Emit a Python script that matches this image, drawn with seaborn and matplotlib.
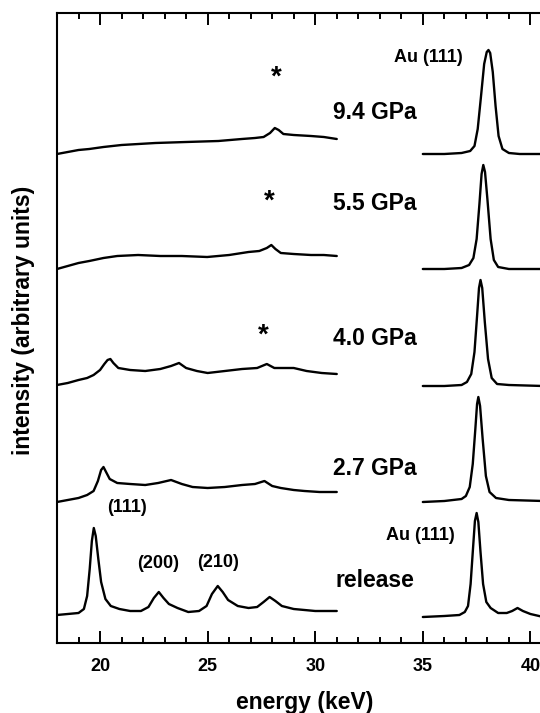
import numpy as np
import pandas as pd
import matplotlib
matplotlib.use("Agg")
import matplotlib.pyplot as plt
import seaborn as sns

# ---------------- data (y in arbitrary stacked units) ----------------
rel_lx = [18.0, 18.5, 19.0, 19.25, 19.4, 19.52, 19.62, 19.71, 19.8, 19.92, 20.05, 20.25, 20.5, 20.9, 21.4,
          21.9, 22.25, 22.5, 22.73, 22.95, 23.2, 23.6, 24.1, 24.6, 24.95, 25.2, 25.47, 25.7, 25.95, 26.4,
          26.9, 27.3, 27.6, 27.88, 28.15, 28.45, 29.0, 29.5, 30.0, 30.5, 31.0]
rel_ly = [29, 30, 31, 35, 48, 75, 103, 116, 108, 85, 62, 45, 38, 35, 33,
          33, 37, 46, 52, 46, 40, 36, 32, 33, 38, 50, 58, 52, 44, 38,
          36, 37, 42, 47, 43, 38, 35, 34, 33, 33, 33]
rel_rx = [35.0, 36.0, 36.7, 36.95, 37.1, 37.22, 37.33, 37.42, 37.5, 37.58, 37.68, 37.8, 37.95, 38.15,
          38.5, 38.9, 39.15, 39.4, 39.65, 40.0, 40.6]
rel_ry = [27, 28, 29, 32, 38, 60, 95, 123, 131, 122, 92, 60, 42, 36,
          31, 31, 33, 36, 33, 30, 27]

p27_lx = [18.0, 18.5, 19.0, 19.4, 19.7, 19.9, 20.05, 20.16, 20.28, 20.45, 20.8, 21.4, 22.1, 22.7,
          23.3, 23.8, 24.3, 25.0, 25.8, 26.6, 27.2, 27.64, 28.0, 28.4, 29.0, 29.5, 30.2, 31.0]
p27_ly = [142, 144, 146, 149, 153, 163, 174, 177, 172, 165, 161, 160, 159, 161,
          164, 160, 157, 156, 157, 159, 160, 163, 158, 156, 154, 153, 152, 152]
p27_rx = [35.0, 36.0, 36.8, 37.0, 37.18, 37.32, 37.44, 37.52, 37.58, 37.66, 37.78, 37.93, 38.1, 38.4, 39.0, 40.6]
p27_ry = [142, 143, 145, 148, 157, 180, 215, 240, 247, 238, 205, 168, 152, 146, 144, 143]

p40_lx = [18.0, 18.5, 19.0, 19.4, 19.7, 20.0, 20.2, 20.35, 20.48, 20.62, 20.85, 21.4, 22.1, 22.8,
          23.3, 23.67, 24.0, 24.5, 25.0, 25.8, 26.6, 27.3, 27.75, 28.1, 28.6, 29.0, 29.6, 30.3, 31.0]
p40_ly = [259, 261, 264, 266, 269, 274, 280, 284, 285, 281, 276, 274, 273, 275,
          278, 281, 276, 273, 271, 273, 275, 276, 280, 276, 276, 276, 273, 271, 270]
p40_rx = [35.0, 36.0, 36.8, 37.05, 37.25, 37.4, 37.52, 37.61, 37.68, 37.76, 37.88, 38.03, 38.2, 38.45, 39.0, 40.6]
p40_ry = [258, 258, 259, 262, 270, 292, 328, 356, 364, 356, 322, 285, 266, 260, 259, 258]

p55_lx = [18.0, 18.5, 19.0, 19.5, 20.16, 20.8, 21.77, 22.8, 23.8, 24.98, 26.0, 26.9, 27.4, 27.75,
          27.96, 28.15, 28.4, 29.0, 29.8, 30.4, 31.0]
p55_ly = [375, 378, 381, 383, 386, 388, 389, 388, 388, 387, 389, 392, 393, 396,
          399, 395, 391, 390, 389, 389, 388]
p55_rx = [35.0, 36.0, 36.8, 37.15, 37.35, 37.5, 37.63, 37.73, 37.81, 37.89, 38.0, 38.15, 38.3, 38.5, 39.0, 40.6]
p55_ry = [375, 375, 376, 379, 386, 405, 440, 470, 479, 472, 445, 405, 384, 377, 375, 375]

p94_lx = [18.0, 18.5, 19.0, 19.5, 20.16, 21.0, 22.57, 24.0, 25.5, 26.59, 27.2, 27.6, 27.9, 28.12,
          28.3, 28.52, 29.0, 29.8, 30.4, 31.0]
p94_ly = [490, 492, 494, 495, 497, 499, 501, 502, 503, 505, 506, 507, 511, 516,
          514, 510, 509, 508, 507, 505]
p94_rx = [35.0, 36.0, 36.8, 37.2, 37.4, 37.55, 37.7, 37.85, 37.97, 38.05, 38.13, 38.25, 38.38, 38.52,
          38.7, 39.0, 39.5, 40.6]
p94_ry = [490, 490, 491, 493, 498, 515, 547, 580, 592, 594, 591, 572, 538, 508,
          495, 491, 490, 490]

traces = {
    "release": (rel_lx, rel_ly, rel_rx, rel_ry),
    "2.7 GPa": (p27_lx, p27_ly, p27_rx, p27_ry),
    "4.0 GPa": (p40_lx, p40_ly, p40_rx, p40_ry),
    "5.5 GPa": (p55_lx, p55_ly, p55_rx, p55_ry),
    "9.4 GPa": (p94_lx, p94_ly, p94_rx, p94_ry),
}

# labels: (text, x, baseline y)
pressure_labels = [("9.4 GPa", 32.75, 524.7), ("5.5 GPa", 32.75, 434.0), ("4.0 GPa", 32.75, 299.0),
                   ("2.7 GPa", 32.75, 169.0), ("release", 32.77, 56.7)]
peak_labels = [("Au (111)", 35.24, 582.3), ("Au (111)", 34.9, 103.5), ("(111)", 21.23, 132.0),
               ("(200)", 22.72, 75.7), ("(210)", 25.48, 77.3)]
star_pos = [(28.18, 574.0), (27.86, 450.0), (27.57, 316.0)]

xticks_major = [20, 25, 30, 35, 40]

rows = []
for name, (lx, ly, rx, ry) in traces.items():
    for x, y in zip(lx, ly):
        rows.append((name + " L", x, y))
    for x, y in zip(rx, ry):
        rows.append((name + " R", x, y))
df = pd.DataFrame(rows, columns=["seg", "energy", "intensity"])

# ---------------- style ----------------
sns.set_style("ticks", rc={"axes.edgecolor": "black", "xtick.color": "black", "ytick.color": "black",
                           "text.color": "black", "axes.labelcolor": "black"})
plt.rcParams["font.family"] = ["Liberation Sans", "DejaVu Sans"]
plt.rcParams["font.weight"] = "bold"

fig = plt.figure(figsize=(5.40, 7.13), dpi=100)
ax = fig.add_axes([57 / 540, 1 - 643.3 / 713, 1.003 - 57 / 540, (643.3 - 13) / 713])

sns.lineplot(data=df, x="energy", y="intensity", units="seg", estimator=None,
             sort=False, color="black", linewidth=1.7, ax=ax, legend=False)

ax.set_xlim(18, 40.52)
ax.set_ylim(0.7, 631)

ax.set_xticks(xticks_major)
ax.set_xticks(np.arange(19, 41, 1), minor=True)
ax.set_xticklabels([str(t) for t in xticks_major], fontsize=13, fontweight="bold", color="black")
ax.set_yticks([])
ax.tick_params(axis="x", which="both", direction="in", top=True, bottom=True, width=1.4, pad=10.5,
               color="black")
ax.tick_params(axis="x", which="major", length=8.5)
ax.tick_params(axis="x", which="minor", length=4.5)
for s in ["left", "bottom", "top"]:
    ax.spines[s].set_linewidth(1.5)
    ax.spines[s].set_color("black")
ax.spines["right"].set_visible(False)

ax.set_xlabel("energy (keV)", fontsize=16.5, fontweight="bold", va="center", color="black")
ax.xaxis.set_label_coords((303.9 - 57) / 483, -(702 - 643.3) / 630.3)
ax.set_ylabel("intensity (arbitrary units)", fontsize=16.5, fontweight="bold", va="center", color="black")
ax.yaxis.set_label_coords((23.5 - 57) / 483, (643.3 - 320) / 630.3)

for t, x, y in pressure_labels:
    ax.text(x, y, t, fontsize=16.5, fontweight="bold", ha="center", va="baseline", color="black")
for t, x, y in peak_labels:
    ax.text(x, y, t, fontsize=13, fontweight="bold", ha="center", va="baseline", color="black")
for x, y in star_pos:
    ax.text(x, y - 14.5, "*", fontsize=20, fontweight="bold", ha="center", va="baseline", color="black")

fig.savefig("out.png", dpi=100)
